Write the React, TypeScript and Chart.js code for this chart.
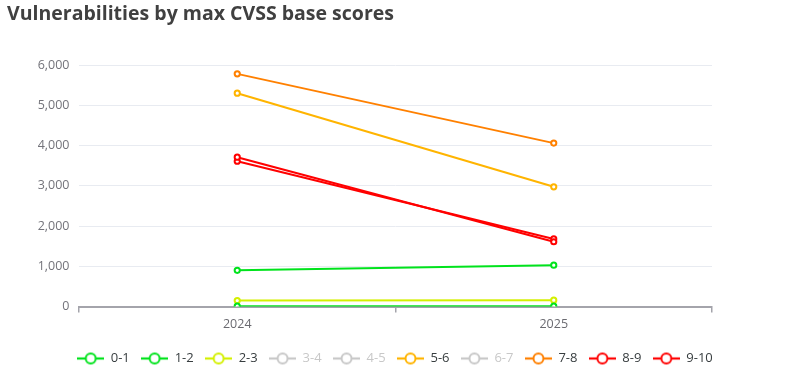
import React, { useEffect, useRef } from "react";
import { Chart, registerables } from "chart.js";

Chart.register(...registerables);

const categories = ["2024", "2025"];
const seriesNames = ["0-1", "1-2", "2-3", "3-4", "4-5", "5-6", "6-7", "7-8", "8-9", "9-10"];
const seriesColors = ["#00e31c", "#00e31c", "#d4f000", "#c8c8c8", "#c8c8c8", "#ffb400", "#c8c8c8", "#ff8000", "#ff0000", "#ff0000"];
const seriesHidden = [false, false, false, true, true, false, true, false, false, false];
const v01 = [10, 10];
const v12 = [900, 1030];
const v23 = [150, 160];
const v34: number[] = [];
const v45: number[] = [];
const v56 = [5300, 2975];
const v67: number[] = [];
const v78 = [5780, 4060];
const v89 = [3710, 1610];
const v910 = [3610, 1680];
const seriesValues = [v01, v12, v23, v34, v45, v56, v67, v78, v89, v910];
const yTicks = [0, 1000, 2000, 3000, 4000, 5000, 6000];

function makeMarker(color: string): HTMLCanvasElement {
  const c = document.createElement("canvas");
  c.width = 27;
  c.height = 14;
  const ctx = c.getContext("2d")!;
  ctx.strokeStyle = color;
  ctx.lineWidth = 2.2;
  ctx.beginPath();
  ctx.moveTo(0, 7);
  ctx.lineTo(27, 7);
  ctx.stroke();
  ctx.beginPath();
  ctx.arc(13.5, 7, 5, 0, Math.PI * 2);
  ctx.fillStyle = "#ffffff";
  ctx.fill();
  ctx.lineWidth = 2;
  ctx.stroke();
  return c;
}

export default function App() {
  const ref = useRef<HTMLCanvasElement>(null);
  useEffect(() => {
    const markers = seriesColors.map(makeMarker);
    const chart = new Chart(ref.current!, {
      type: "line",
      data: {
        labels: categories,
        datasets: seriesNames.map((name, i) => ({
          label: name,
          data: seriesValues[i],
          borderColor: seriesColors[i],
          backgroundColor: "#ffffff",
          pointBackgroundColor: "#ffffff",
          pointBorderColor: seriesColors[i],
          pointBorderWidth: 2,
          pointRadius: 2.6,
          borderWidth: 2,
          hidden: seriesHidden[i],
          yAxisID: "y",
        })),
      },
      options: {
        animation: false,
        responsive: false,
        maintainAspectRatio: false,
        layout: { padding: { left: 7, right: 7, top: 0, bottom: 6 } },
        plugins: {
          tooltip: { enabled: false },
          title: {
            display: true,
            text: "Vulnerabilities by max CVSS base scores",
            align: "start",
            color: "#404040",
            font: { family: "'Open Sans'", size: 19.5, weight: "bold" },
            padding: { top: 2.3, bottom: 39.3 },
          },
          legend: {
            position: "bottom",
            labels: {
              usePointStyle: true,
              pointStyleWidth: 27,
              boxHeight: 13,
              padding: 11.4,
              font: { family: "'Open Sans'", size: 13 },
              color: "#373d3f",
              generateLabels: (ch: any) =>
                seriesNames.map((name, i) => ({
                  text: name,
                  datasetIndex: i,
                  hidden: false,
                  fillStyle: "#fff",
                  strokeStyle: seriesColors[i],
                  fontColor: seriesHidden[i] ? "#c8c8c8" : "#373d3f",
                  pointStyle: markers[i],
                  lineWidth: 0,
                })),
            },
          },
        },
        scales: {
          x: {
            offset: true,
            grid: {
              display: true,
              drawOnChartArea: false,
              drawTicks: true,
              tickLength: 6,
              color: "#a4a4ab",
              lineWidth: 1.5,
              offset: true,
            },
            border: { display: true, color: "#a4a4ab", width: 2 },
            ticks: {
              color: "#6a6a70",
              padding: 4,
              font: { family: "'Open Sans'", size: 12.5 },
            },
            afterFit: (s: any) => {
              s.height = 34;
            },
          },
          y: {
            min: 0,
            max: 6000,
            afterBuildTicks: (s: any) => {
              s.ticks = yTicks.map((v) => ({ value: v }));
            },
            grid: { color: "#e8ebf1", drawTicks: false, lineWidth: 1 },
            border: { display: false },
            ticks: {
              color: "#73737a",
              padding: 9.5,
              font: { family: "'Open Sans'", size: 12.5 },
              callback: (v: any) => Number(v).toLocaleString("en-US"),
            },
            afterFit: (s: any) => {
              s.width = 72;
            },
          },
          y2: {
            position: "right",
            display: true,
            grid: { display: false, drawTicks: false },
            border: { display: false },
            ticks: { display: false },
            afterFit: (s: any) => {
              s.width = 71;
            },
          },
        },
      },
    } as any);
    return () => chart.destroy();
  }, []);
  return (
    <div style={{ position: "fixed", left: 0, top: 0, width: 790, height: 381, background: "#fff" }}>
      <canvas ref={ref} width={790} height={381} style={{ display: "block" }} />
    </div>
  );
}
